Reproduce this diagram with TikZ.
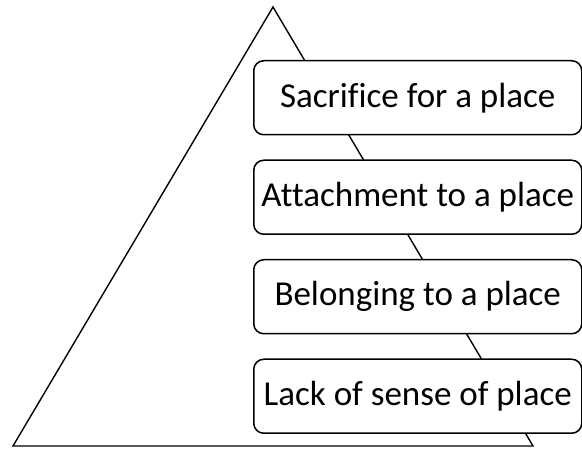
\documentclass[tikz,border=0pt]{standalone}
\usepackage{fontspec}
\setmainfont{Carlito}[Ligatures=NoCommon]
\usetikzlibrary{positioning}

\begin{document}
\begin{tikzpicture}[x=1pt,y=-1pt,node distance=24pt,
  level/.style={draw,fill=white,rounded corners=10pt,line width=1.5pt,
    minimum width=328pt,minimum height=74pt,inner sep=0pt,
    font=\fontsize{35}{40}\selectfont}]
\useasboundingbox (0,0) rectangle (582,449);
\coordinate (apex) at (273,7);
\coordinate (base_l) at (13,446);
\coordinate (base_r) at (533,446);
\draw[line width=1.4pt] (apex) -- (base_l) -- (base_r) -- cycle;

\node[level, anchor=north west] (p_4) at (253,60) {Sacrifice for a place};
\node[level] (p_3) [below=of p_4] {Attachment to a place};
\node[level] (p_2) [below=of p_3] {Belonging to a place};
\node[level] (p_1) [below=of p_2] {Lack of sense of place};
\end{tikzpicture}
\end{document}
